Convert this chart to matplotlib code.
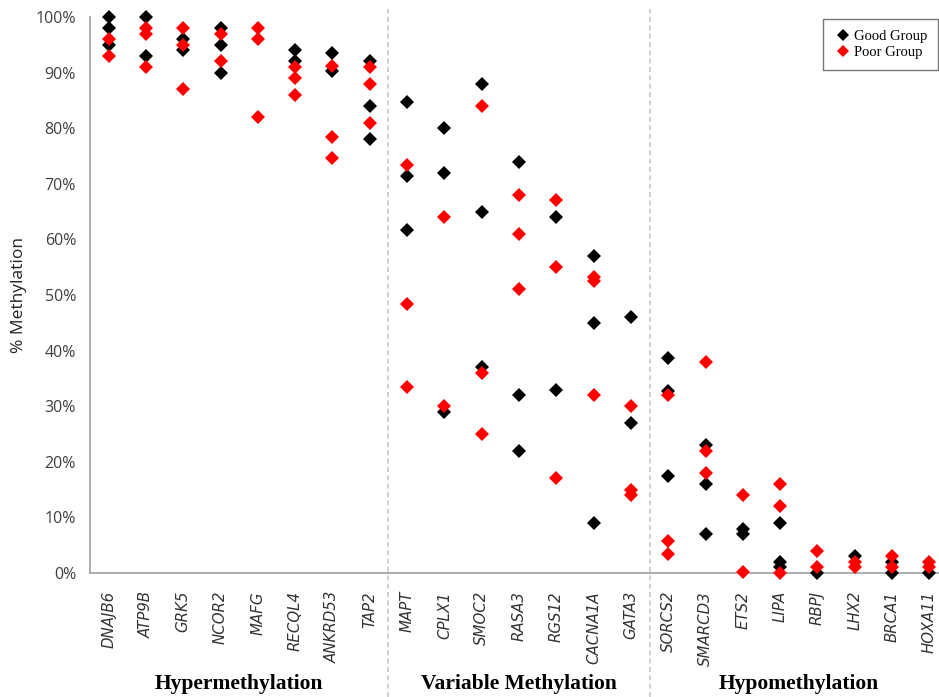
import matplotlib
matplotlib.use("Agg")
import matplotlib.pyplot as plt
from matplotlib.lines import Line2D
from matplotlib.transforms import blended_transform_factory

# Genes in plotting order, grouped by methylation pattern
genes = ["DNAJB6", "ATP9B", "GRK5", "NCOR2", "MAFG", "RECQL4", "ANKRD53", "TAP2",
         "MAPT", "CPLX1", "SMOC2", "RASA3", "RGS12", "CACNA1A", "GATA3",
         "SORCS2", "SMARCD3", "ETS2", "LIPA", "RBPJ", "LHX2", "BRCA1", "HOXA11"]

group_names = ["Hypermethylation", "Variable Methylation", "Hypomethylation"]
group_sizes = [8, 7, 8]

# % methylation per sample, one list per gene
good_group = [
    [100, 98, 95], [100, 93], [96, 94], [98, 95, 90], [],
    [94, 92], [93.6, 90.3], [92, 84, 78],
    [84.8, 71.4, 61.7], [80, 72, 29], [88, 65, 37], [74, 32, 22],
    [64, 33], [57, 45, 9], [46, 27],
    [38.7, 32.8, 17.4], [23, 16, 7], [8, 7], [9, 2, 1],
    [0], [3], [2, 0], [0],
]
poor_group = [
    [96, 93], [98, 97, 91], [98, 95, 87], [97, 92], [98, 96, 82],
    [91, 89, 86], [91.2, 78.4, 74.6], [91, 88, 81],
    [73.4, 48.4, 33.5], [64, 30], [84, 36, 25], [68, 61, 51],
    [67, 55, 17], [53.3, 52.5, 32], [30, 15, 14],
    [32, 5.8, 3.5], [38, 22, 18], [14, 0.2], [16, 12, 0],
    [4, 1], [2, 1], [3, 1], [2, 1],
]

y_ticks = [0, 10, 20, 30, 40, 50, 60, 70, 80, 90, 100]
y_tick_labels = [f"{t}%" for t in y_ticks]

W, H = 939, 697
fig = plt.figure(figsize=(W / 100, H / 100), dpi=100)
ax = fig.add_axes([90 / W, (H - 573) / H, 858 / W, 556 / H])


def flatten(groups):
    xs, ys = [], []
    for i, vals in enumerate(groups):
        for v in vals:
            xs.append(i)
            ys.append(v)
    return xs, ys


gx, gy = flatten(good_group)
px, py = flatten(poor_group)
ax.plot(gx, gy, linestyle="none", marker="D", ms=7.6, color="black", mew=0,
        clip_on=False, zorder=3)
ax.plot(px, py, linestyle="none", marker="D", ms=7.6, color="#ff0000", mew=0,
        clip_on=False, zorder=4)

ax.set_xlim(-0.5, len(genes) - 0.5)
ax.set_ylim(0, 100)

ax.set_yticks(y_ticks)
ax.set_yticklabels(y_tick_labels, fontfamily="Open Sans", fontsize=11.5,
                   color="#404040")
ax.set_xticks(range(len(genes)))
ax.set_xticklabels(genes, rotation=90, fontfamily="DejaVu Sans",
                   fontstyle="italic", fontsize=10.8, color="#333333")
ax.tick_params(axis="y", length=0, pad=10)
ax.tick_params(axis="x", length=0, pad=13)

for s in ("top", "right"):
    ax.spines[s].set_visible(False)
for s in ("left", "bottom"):
    ax.spines[s].set_color("#a6a6a6")
    ax.spines[s].set_linewidth(1.3)

fig.text(19 / W, 1 - 295 / H, "% Methylation", rotation=90, ha="center",
         va="center", fontfamily="Open Sans", fontsize=12.5, color="#222222")

# Group separators and group titles
trans = blended_transform_factory(ax.transData, fig.transFigure)
start = 0
for k, (name, n) in enumerate(zip(group_names, group_sizes)):
    center = start + (n - 1) / 2
    ax.text(center, 1 - 684 / H, name, transform=trans, ha="center",
            va="center", fontfamily="Liberation Serif", fontweight="bold",
            fontsize=15.5, color="black", clip_on=False)
    end = start + n
    if k < len(group_sizes) - 1:
        b = end - 0.5
        ax.plot([b, b], [0, 1 - 9 / H], transform=trans, color="#c8c8c8",
                lw=1.2, linestyle=(0, (3, 2)), clip_on=False, zorder=1)
    start = end

handles = [
    Line2D([], [], linestyle="none", marker="D", ms=6.5, color="black", mew=0),
    Line2D([], [], linestyle="none", marker="D", ms=6.5, color="#ff0000", mew=0),
]
leg = ax.legend(handles, ["Good Group", "Poor Group"], loc="upper right",
                bbox_to_anchor=(938 / W, 1 - 19 / H),
                bbox_transform=fig.transFigure, frameon=True, fancybox=False,
                prop={"family": "Liberation Serif", "size": 10.5},
                handletextpad=0.15, handlelength=1.2, borderpad=0.75,
                labelspacing=0.2, borderaxespad=0)
leg.get_frame().set_edgecolor("#555555")
leg.get_frame().set_linewidth(1.0)

fig.savefig("out.png", dpi=100)
